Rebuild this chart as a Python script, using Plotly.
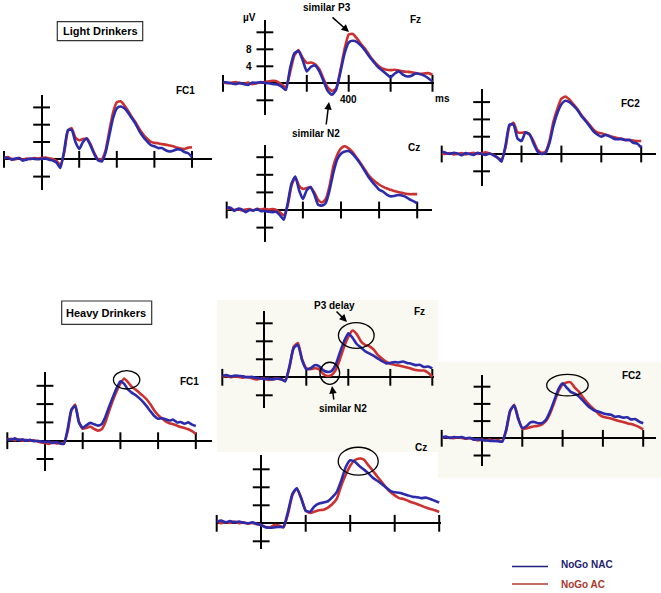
import plotly.graph_objects as go

# ---------------- data (µV, sampled every 20 ms from -200 to 800 ms) ----------------
TIME_MS = list(range(-200, 820, 20))

XTICKS = [-200, 200, 400, 600, 800]
YTICKS = [-4, 4, 8, 12]

SERIES_NAMES = ["NoGo NAC", "NoGo AC"]

light_fc1_nac = [0.4, 0.3, -0.1, 0.2, 0.3, -0.3, -0.1, 0.2, 0.1, 0.0,
                 0.1, 0.2, -0.1, -0.3, -0.8, -2.0, 2.0, 6.8, 6.8, 4.0,
                 2.4, 4.0, 4.8, 3.2, 1.2, -0.2, -0.5, 1.5, 5.5, 9.5,
                 11.8, 12.2, 11.8, 10.8, 9.5, 8.2, 6.5, 5.2, 4.2, 3.3,
                 3.0, 2.6, 2.6, 2.1, 1.8, 2.0, 2.3, 2.2, 1.7, 1.4,
                 0.5]
light_fc1_ac = [0.2, 0.5, 0.1, 0.0, 0.3, -0.1, 0.2, 0.0, 0.3, 0.2,
                0.3, 0.4, 0.2, 0.1, -0.4, -1.3, 1.5, 6.5, 7.2, 5.0,
                4.4, 4.7, 4.8, 3.5, 1.5, 0.0, 0.0, 2.0, 6.5, 10.8,
                13.2, 13.4, 12.5, 11.2, 9.8, 8.5, 7.0, 5.8, 4.8, 4.1,
                3.8, 3.7, 3.5, 3.4, 3.2, 3.0, 2.7, 2.5, 2.4, 2.7,
                2.8]

light_fz_nac = [0.3, 0.2, 0.0, -0.2, 0.1, -0.2, -0.4, 0.2, 0.1, 0.3,
                0.1, 0.0, -0.2, -0.3, -0.8, -1.6, 3.5, 7.0, 7.6, 5.5,
                2.8, 3.9, 4.2, 2.8, 0.5, -1.8, -2.7, -1.5, 2.5, 7.0,
                9.6, 10.0, 9.7, 8.8, 7.6, 6.2, 5.0, 3.8, 3.0, 2.2,
                1.4, 2.3, 2.8, 2.0, 1.6, 1.8, 2.3, 2.2, 1.8, 1.2,
                0.4]
light_fz_ac = [0.2, 0.0, 0.1, 0.3, 0.0, -0.1, 0.2, -0.2, 0.0, 0.2,
               0.3, 0.5, 0.6, 0.4, -0.3, -0.9, 2.5, 6.5, 7.8, 6.0,
               4.8, 4.9, 4.5, 3.3, 1.0, -1.0, -1.8, -1.2, 3.0, 8.0,
               11.5, 11.6, 10.5, 9.2, 8.0, 6.5, 5.2, 4.2, 3.5, 3.2,
               3.1, 3.2, 3.0, 2.8, 2.7, 2.6, 2.4, 2.2, 2.3, 2.4,
               2.0]

light_fc2_nac = [0.5, 0.3, 0.0, 0.3, 0.1, -0.3, 0.2, 0.0, -0.2, 0.3,
                 0.0, -0.2, 0.1, -0.3, -0.8, -1.8, 2.0, 6.8, 6.8, 3.6,
                 3.0, 5.0, 4.6, 2.5, 0.6, 0.0, 0.2, 2.5, 6.5, 9.5,
                 11.5, 12.3, 12.0, 11.2, 10.2, 8.8, 7.7, 6.5, 5.3, 4.5,
                 4.0, 4.4, 4.1, 3.6, 3.4, 3.5, 3.2, 3.3, 2.6, 2.4,
                 1.5]
light_fc2_ac = [0.2, 0.0, 0.2, -0.1, 0.0, 0.2, -0.1, 0.1, 0.3, 0.0,
                0.2, 0.4, 0.1, -0.2, -0.9, -1.2, 1.5, 6.5, 7.2, 5.0,
                4.9, 5.0, 4.5, 3.0, 1.0, 0.3, 0.5, 3.0, 7.5, 10.5,
                12.8, 13.3, 12.6, 11.5, 10.4, 9.0, 7.9, 6.8, 5.7, 5.0,
                4.8, 4.5, 4.2, 3.9, 3.7, 3.5, 3.3, 3.2, 3.1, 3.0,
                3.0]

light_cz_nac = [0.6, 0.5, -0.2, 0.3, 0.1, -0.5, 0.0, -0.1, 0.2, -0.3,
                -0.2, -0.4, -0.5, -0.4, -1.2, -2.2, 1.5, 6.0, 7.6, 4.5,
                2.5, 4.5, 5.2, 3.5, 1.2, 1.0, 1.6, 4.5, 8.5, 11.5,
                12.8, 13.3, 13.4, 12.8, 11.8, 10.6, 9.2, 7.8, 6.6, 5.6,
                4.6, 4.2, 3.5, 3.1, 3.2, 3.4, 3.3, 3.0, 2.4, 2.0,
                1.5]
light_cz_ac = [0.2, 0.4, 0.0, 0.2, -0.1, 0.1, 0.2, -0.1, 0.3, 0.1,
               0.3, 0.1, 0.2, 0.0, -0.6, -1.2, 1.0, 5.5, 7.5, 5.5,
               4.8, 5.0, 5.2, 4.0, 2.3, 1.7, 2.5, 5.5, 10.0, 12.5,
               14.0, 14.5, 14.0, 13.2, 12.0, 10.8, 9.5, 8.2, 7.2, 6.4,
               5.8, 5.3, 4.9, 4.6, 4.3, 4.1, 3.9, 3.7, 3.6, 3.6,
               3.6]

heavy_fc1_nac = [0.4, 0.2, 0.5, 0.1, 0.3, 0.0, 0.2, -0.1, 0.0, -0.2,
                 -0.3, -0.2, -0.5, -0.3, -0.6, -0.7, 2.5, 6.8, 7.6, 4.0,
                 2.8, 3.4, 3.9, 3.6, 3.3, 3.6, 5.2, 7.4, 9.5, 11.5,
                 13.0, 12.4, 11.2, 10.5, 10.0, 9.3, 8.5, 7.5, 6.4, 5.4,
                 4.8, 4.9, 4.7, 4.4, 4.6, 4.0, 4.1, 3.7, 4.0, 3.5,
                 3.2]
heavy_fc1_ac = [0.2, 0.4, 0.1, 0.3, 0.0, 0.2, 0.0, 0.1, -0.2, -0.4,
                -0.5, -0.7, -0.4, -0.6, -0.5, -0.6, 2.0, 6.6, 7.9, 4.2,
                2.6, 2.8, 3.1, 2.6, 2.2, 2.5, 4.0, 6.5, 8.8, 10.8,
                12.5, 13.6, 12.8, 11.8, 11.2, 10.5, 9.8, 9.0, 7.9, 6.6,
                5.6, 4.9, 4.2, 3.8, 3.6, 3.3, 3.0, 2.8, 2.5, 2.1,
                1.5]

heavy_fz_nac = [0.3, 0.5, 0.2, 0.4, 0.3, 0.2, 0.0, 0.1, -0.1, -0.2,
                -0.4, -0.3, -0.5, -0.3, -0.4, -0.9, 2.5, 6.5, 7.2, 3.8,
                1.8, 2.0, 2.7, 2.5, 1.6, 1.2, 1.4, 2.8, 5.5, 8.0,
                9.8, 8.8, 7.4, 6.6, 5.8, 5.3, 4.8, 4.2, 3.6, 3.1,
                3.2, 3.4, 3.3, 3.5, 3.2, 3.0, 2.7, 2.8, 2.3, 2.4,
                2.0]
heavy_fz_ac = [0.1, 0.3, 0.0, 0.2, 0.1, -0.1, 0.1, -0.2, -0.5, -0.3,
               -0.2, -0.6, -0.4, -0.2, -0.5, -0.6, 2.2, 6.8, 7.6, 4.0,
               2.0, 1.8, 2.0, 1.8, 0.8, 0.3, 0.5, 1.6, 4.0, 6.8,
               9.0, 10.4, 9.6, 8.0, 7.2, 6.9, 6.2, 5.0, 4.2, 3.5,
               3.0, 2.8, 2.6, 2.4, 2.2, 1.9, 1.6, 1.5, 1.5, 1.0,
               0.1]

heavy_fc2_nac = [0.2, 0.4, 0.1, 0.3, 0.2, 0.3, 0.0, 0.1, -0.3, -0.2,
                 -0.4, -0.5, -0.6, -0.6, -0.7, -0.8, 2.0, 6.5, 7.6, 4.5,
                 2.4, 2.8, 3.7, 3.8, 3.5, 3.6, 4.5, 6.5, 9.0, 11.5,
                 12.8, 11.8, 10.8, 10.4, 9.8, 8.8, 7.8, 7.0, 6.4, 6.2,
                 5.8, 5.6, 5.5, 5.0, 5.1, 4.8, 4.9, 4.4, 4.5, 3.9,
                 3.5]
heavy_fc2_ac = [0.0, 0.3, 0.2, 0.0, 0.2, 0.1, -0.1, 0.0, -0.2, -0.5,
                -0.3, -0.5, -0.3, -0.6, -0.4, -0.7, 1.8, 6.3, 7.8, 4.6,
                2.2, 2.3, 2.6, 2.8, 2.9, 3.3, 4.2, 6.0, 8.5, 11.0,
                12.5, 13.0, 13.0, 11.8, 10.9, 9.6, 8.4, 7.4, 6.6, 5.6,
                5.0, 4.8, 4.6, 4.3, 4.0, 3.8, 3.5, 3.3, 3.0, 2.6,
                2.1]

heavy_cz_nac = [0.3, 0.6, 0.2, 0.5, 0.2, 0.4, 0.1, 0.0, 0.2, -0.1,
                -0.4, -0.9, -1.0, -0.9, -0.8, -0.8, 2.5, 6.5, 7.8, 5.5,
                2.8, 2.6, 3.8, 4.4, 4.6, 4.9, 5.8, 7.0, 9.5, 12.5,
                14.0, 13.7, 12.8, 12.0, 11.2, 10.2, 9.5, 8.8, 8.0, 7.2,
                6.9, 6.8, 6.5, 6.2, 5.9, 5.8, 5.6, 5.7, 5.4, 5.0,
                4.6]
heavy_cz_ac = [0.5, 0.0, 0.3, 0.1, 0.4, 0.0, 0.2, -0.1, 0.1, -0.2,
               -0.4, -0.8, -0.9, -0.4, -0.5, -0.9, 2.0, 6.2, 7.8, 5.6,
               2.8, 2.3, 2.6, 2.9, 3.0, 3.5, 4.3, 5.5, 8.4, 10.8,
               12.8, 14.0, 14.4, 14.2, 13.0, 11.8, 10.5, 9.3, 8.0, 7.0,
               6.2, 5.6, 5.4, 5.0, 4.6, 4.3, 3.9, 3.5, 3.2, 2.9,
               2.5]

# ---------------- layout geometry (pixels in the 661x593 page) ----------------
W, H = 661, 593
BLUE = "#2b2bab"
RED = "#cc3131"

panels = [
    dict(label="FC1", nac=light_fc1_nac, ac=light_fc1_ac, x0=4, s=37.6, end=212, base=159.3, p4=17.3, top=95, bot=190, lab=(186, 91)),
    dict(label="Fz", nac=light_fz_nac, ac=light_fz_ac, x0=223, s=41.9, end=434, base=83.3, p4=17.0, top=20, bot=115, lab=(415, 20)),
    dict(label="FC2", nac=light_fc2_nac, ac=light_fc2_ac, x0=441.7, s=39.9, end=656, base=154, p4=17.3, top=89, bot=186, lab=(630, 103)),
    dict(label="Cz", nac=light_cz_nac, ac=light_cz_ac, x0=226.7, s=38.1, end=432, base=210, p4=17.6, top=145, bot=241.7, lab=(414, 147)),
    dict(label="FC1", nac=heavy_fc1_nac, ac=heavy_fc1_ac, x0=7.3, s=37.7, end=212, base=440.7, p4=18.3, top=371.7, bot=471, lab=(190, 381)),
    dict(label="Fz", nac=heavy_fz_nac, ac=heavy_fz_ac, x0=222.3, s=42.0, end=434, base=377.3, p4=18.0, top=310.7, bot=408.3, lab=(419, 311)),
    dict(label="FC2", nac=heavy_fc2_nac, ac=heavy_fc2_ac, x0=441.7, s=40.3, end=656, base=438.3, p4=17.2, top=375, bot=466, lab=(631, 375)),
    dict(label="Cz", nac=heavy_cz_nac, ac=heavy_cz_ac, x0=216.7, s=44.5, end=441, base=523.3, p4=18.0, top=455, bot=549, lab=(421, 447)),
]

FONT = "Liberation Sans, Arial, sans-serif"


def px(xp):
    return xp / W


def py(yp):
    return 1 - yp / H


fig = go.Figure()
shapes = []
annotations = []

# cream backgrounds of the heavy-drinker panels
shapes.append(dict(type="rect", xref="paper", yref="paper", x0=px(217), x1=px(438), y0=py(452), y1=py(300),
                   fillcolor="#f9f8f1", line=dict(width=0), layer="below"))
shapes.append(dict(type="rect", xref="paper", yref="paper", x0=px(438), x1=px(661), y0=py(478), y1=py(362),
                   fillcolor="#f9f8f1", line=dict(width=0), layer="below"))

for i, p in enumerate(panels, start=1):
    xa = "xaxis" if i == 1 else f"xaxis{i}"
    ya = "yaxis" if i == 1 else f"yaxis{i}"
    xr = "x" if i == 1 else f"x{i}"
    yr = "y" if i == 1 else f"y{i}"
    ppu = p["p4"] / 4.0
    x_end_ms = -200 + (p["end"] - p["x0"]) * 200.0 / p["s"]
    y_lo = -(p["bot"] - p["base"]) / ppu
    y_hi = (p["base"] - p["top"]) / ppu

    fig.update_layout({
        xa: dict(domain=[px(p["x0"]), px(p["end"])], range=[-200, x_end_ms], anchor=yr,
                 showgrid=False, showline=False, ticks="", showticklabels=False,
                 zeroline=True, zerolinecolor="black", zerolinewidth=2, fixedrange=True),
        ya: dict(domain=[py(p["bot"]), py(p["top"])], range=[y_lo, y_hi], anchor=xr,
                 showgrid=False, showline=False, ticks="", showticklabels=False,
                 zeroline=True, zerolinecolor="black", zerolinewidth=2, fixedrange=True),
    })

    # tick crosses
    fig.add_trace(go.Scatter(x=XTICKS, y=[0] * len(XTICKS), xaxis=xr, yaxis=yr, mode="markers",
                             marker=dict(symbol="line-ns", size=12, line=dict(width=2, color="black")),
                             cliponaxis=False, showlegend=False, hoverinfo="skip"))
    fig.add_trace(go.Scatter(x=[0] * len(YTICKS), y=YTICKS, xaxis=xr, yaxis=yr, mode="markers",
                             marker=dict(symbol="line-ew", size=12, line=dict(width=2, color="black")),
                             cliponaxis=False, showlegend=False, hoverinfo="skip"))
    # waveforms
    fig.add_trace(go.Scatter(x=TIME_MS, y=p["ac"], xaxis=xr, yaxis=yr, mode="lines",
                             line=dict(color=RED, width=2.6, shape="spline", smoothing=0.5),
                             name=SERIES_NAMES[1], showlegend=False))
    fig.add_trace(go.Scatter(x=TIME_MS, y=p["nac"], xaxis=xr, yaxis=yr, mode="lines",
                             line=dict(color=BLUE, width=2.6, shape="spline", smoothing=0.5),
                             name=SERIES_NAMES[0], showlegend=False))

    annotations.append(dict(xref="paper", yref="paper", x=px(p["lab"][0]), y=py(p["lab"][1]),
                            xanchor="center", yanchor="middle",
                            text=f"<b>{p['label']}</b>", showarrow=False,
                            font=dict(size=10, color="black", family=FONT)))
    p["xr"], p["yr"] = xr, yr


def to_px(p, t, v):
    """panel data coordinates (ms, µV) -> page pixels"""
    return p["x0"] + (t + 200) * p["s"] / 200.0, p["base"] - v * p["p4"] / 4.0


# tick labels of the light Fz panel
fz = panels[1]
for v in (4, 8):
    annotations.append(dict(xref=fz["xr"], yref=fz["yr"], x=0, y=v, text=f"<b>{v}</b>", showarrow=False,
                            xanchor="right", yanchor="middle", xshift=-11,
                            font=dict(size=10, color="black", family=FONT)))
annotations.append(dict(xref=fz["xr"], yref=fz["yr"], x=400, y=0, text="<b>400</b>", showarrow=False,
                        xanchor="center", yanchor="top", yshift=-9, font=dict(size=10, color="black", family=FONT)))


def text_note(x, y, s, size=10):
    annotations.append(dict(xref="paper", yref="paper", x=px(x), y=py(y), text=f"<b>{s}</b>", showarrow=False,
                            xanchor="center", yanchor="middle",
                            font=dict(size=size, color="black", family=FONT)))


def arrow(x_head, y_head, x_tail, y_tail):
    annotations.append(dict(xref="paper", yref="paper", x=px(x_head), y=py(y_head), text="",
                            showarrow=True, ax=x_tail - x_head, ay=y_tail - y_head,
                            arrowhead=2, arrowsize=1, arrowwidth=1.5, arrowcolor="black"))


text_note(250, 17, "µV")
text_note(442, 99, "ms")
text_note(327, 7, "similar P3")
arrow(349, 32, 331, 16)
text_note(316, 133, "similar N2")
arrow(329, 102, 326, 126)
text_note(334, 305, "P3 delay")
arrow(347, 322, 335, 310)
text_note(343, 408, "similar N2")
arrow(332, 386, 334, 401)

# group boxes
shapes.append(dict(type="rect", xref="paper", yref="paper", x0=px(57.3), x1=px(142.7), y0=py(40.7), y1=py(21.7),
                   line=dict(color="#333333", width=1.2), fillcolor="white"))
text_note(100, 31, "Light Drinkers", size=11)
shapes.append(dict(type="rect", xref="paper", yref="paper", x0=px(61.7), x1=px(151.7), y0=py(324.3), y1=py(301),
                   line=dict(color="#333333", width=1.2), fillcolor="white"))
text_note(106, 313, "Heavy Drinkers", size=11)


# ellipses around peaks (given in panel data coordinates: ms, µV)
def ellipse(p, cx, cy, rx, ry):
    xa_, ya_ = to_px(p, cx - rx, cy + ry)
    xb_, yb_ = to_px(p, cx + rx, cy - ry)
    shapes.append(dict(type="circle", xref="paper", yref="paper", x0=px(xa_), x1=px(xb_), y0=py(yb_), y1=py(ya_),
                       line=dict(color="black", width=1.3)))


ellipse(panels[4], 433, 13.3, 70, 2.0)
ellipse(panels[5], 438, 9.3, 85, 2.85)
ellipse(panels[5], 312, 0.9, 47, 2.45)
ellipse(panels[6], 424, 12.35, 103, 2.5)
ellipse(panels[7], 436, 13.8, 90, 3.1)

# legend
shapes.append(dict(type="line", xref="paper", yref="paper", x0=px(512), x1=px(548), y0=py(566.5), y1=py(566.5),
                   line=dict(color="#1f1f80", width=1.6)))
shapes.append(dict(type="line", xref="paper", yref="paper", x0=px(512), x1=px(548), y0=py(584), y1=py(584),
                   line=dict(color="#b13b30", width=1.6)))
annotations.append(dict(xref="paper", yref="paper", x=px(559), y=py(564.5), text=f"<b>{SERIES_NAMES[0]}</b>",
                        showarrow=False, xanchor="left", yanchor="middle",
                        font=dict(size=10, color="#23236e", family=FONT)))
annotations.append(dict(xref="paper", yref="paper", x=px(559), y=py(584), text=f"<b>{SERIES_NAMES[1]}</b>",
                        showarrow=False, xanchor="left", yanchor="middle",
                        font=dict(size=10, color="#a8382e", family=FONT)))

fig.update_layout(width=W, height=H, margin=dict(l=0, r=0, t=0, b=0),
                  paper_bgcolor="white", plot_bgcolor="rgba(0,0,0,0)",
                  showlegend=False, shapes=shapes, annotations=annotations,
                  font=dict(family=FONT))

fig.write_html("out.html", config={"displayModeBar": False},
               post_script="document.body.style.margin='0px';document.body.style.padding='0px';")
